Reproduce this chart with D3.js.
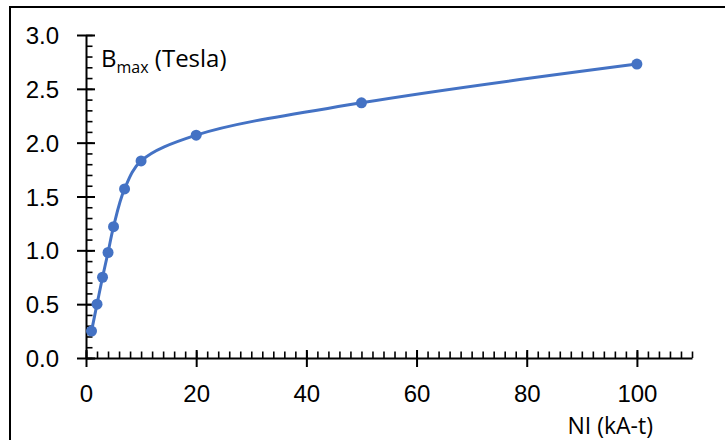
<!DOCTYPE html>
<html lang="en">
<meta charset="utf-8">
<head>
    <script src="https://d3js.org/d3.v7.min.js"></script>
    <style>
        body { margin: 0; background: #fff; }
        svg { font-family: "Open Sans", "Noto Sans", sans-serif; }
    </style>
</head>
<body>
<div id="chart"></div>
<script>
// data
var ni = [1, 2, 3, 4, 5, 7, 10, 20, 50, 100];          // NI (kA-t)
var bmax = [0.25, 0.5, 0.75, 0.98, 1.22, 1.57, 1.83, 2.07, 2.37, 2.73]; // Tesla
var xTicks = [0, 20, 40, 60, 80, 100];
var yTicks = [0, 0.5, 1.0, 1.5, 2.0, 2.5, 3.0];

var W = 725, H = 440;
var svg = d3.select("#chart").append("svg")
    .attr("width", W).attr("height", H);

// chart frame (only left and top edges are inside the picture)
svg.append("rect")
    .attr("x", 10).attr("y", 7)
    .attr("width", 740).attr("height", 460)
    .attr("fill", "none").attr("stroke", "#000").attr("stroke-width", 2);

var x = d3.scaleLinear().domain([0, 110]).range([86, 692]);
var y = d3.scaleLinear().domain([0, 3]).range([358, 35]);

var data = ni.map(function(d, i) { return {x: d, y: bmax[i]}; });

// minor ticks
svg.append("g")
    .attr("transform", "translate(0," + y(0) + ")")
    .call(d3.axisBottom(x).tickValues(d3.range(0, 111, 2)).tickSize(-6.5).tickFormat(""))
    .call(function(g) { g.select(".domain").remove(); })
    .selectAll("line").attr("stroke-width", 1.6);
svg.append("g")
    .attr("transform", "translate(" + x(0) + ",0)")
    .call(d3.axisLeft(y).tickValues(d3.range(0, 31, 1).map(function(d){ return d / 10; })).tickSize(-6.5).tickFormat(""))
    .call(function(g) { g.select(".domain").remove(); })
    .selectAll("line").attr("stroke-width", 1.6);

// x axis
var gx = svg.append("g")
    .attr("transform", "translate(0," + y(0) + ")")
    .call(d3.axisBottom(x).tickValues(xTicks).tickSizeOuter(0).tickPadding(21));
gx.selectAll(".tick line").attr("y1", -8).attr("y2", 9);
gx.selectAll(".tick text").style("font-size", "24px").attr("fill", "#000");

// y axis
var gy = svg.append("g")
    .attr("transform", "translate(" + x(0) + ",0)")
    .call(d3.axisLeft(y).tickValues(yTicks).tickFormat(d3.format(".1f")).tickSizeOuter(0).tickPadding(21));
gy.selectAll(".tick line").attr("x1", -9).attr("x2", 9);
gy.selectAll(".tick text").style("font-size", "24px").attr("fill", "#000").attr("dy", "0.36em");

[gx, gy].forEach(function(g) {
    g.select(".domain").attr("stroke-width", 2);
    g.selectAll(".tick line").attr("stroke-width", 2);
});

// smoothed line
var line = d3.line()
    .x(function(d) { return x(d.x); })
    .y(function(d) { return y(d.y); })
    .curve(d3.curveCatmullRom.alpha(0.5));

svg.append("path")
    .datum(data)
    .attr("d", line)
    .attr("fill", "none")
    .attr("stroke", "#4472C4")
    .attr("stroke-width", 3);

svg.selectAll("circle.pt")
    .data(data)
    .enter().append("circle")
    .attr("class", "pt")
    .attr("cx", function(d) { return x(d.x); })
    .attr("cy", function(d) { return y(d.y); })
    .attr("r", 5.5)
    .attr("fill", "#4472C4");

// axis titles
var yt = svg.append("text")
    .attr("x", 101).attr("y", 67)
    .style("font-size", "24px");
yt.append("tspan").text("B");
yt.append("tspan").attr("dy", 6).style("font-size", "16px").text("max");
yt.append("tspan").attr("dy", -6).text(" (Tesla)");

svg.append("text")
    .attr("x", 653).attr("y", 434)
    .attr("text-anchor", "end")
    .style("font-size", "23px")
    .text("NI (kA-t)");
</script>
</body>
</html>
